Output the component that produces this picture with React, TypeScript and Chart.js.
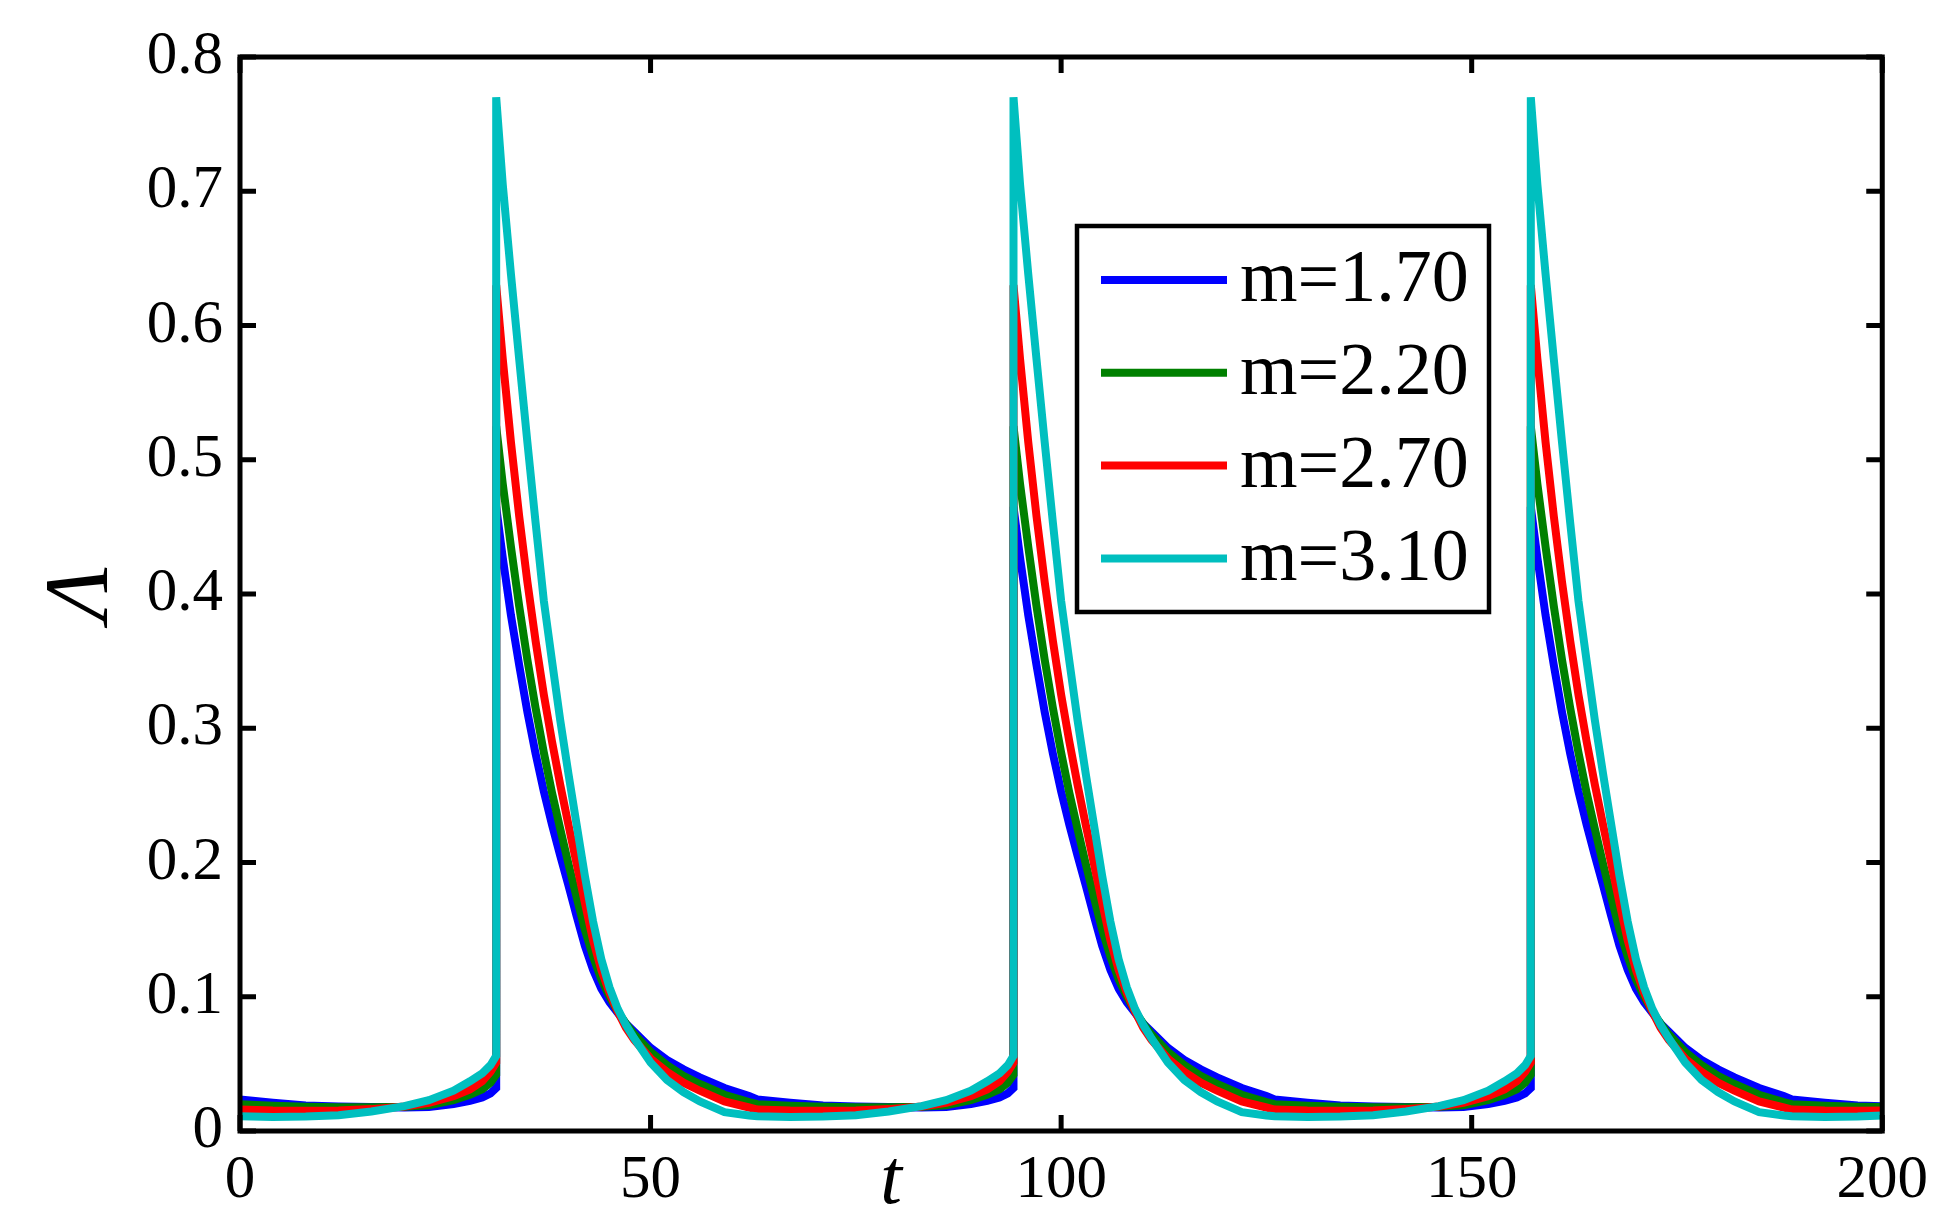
import React, { useEffect, useRef } from 'react';
import { Chart, registerables } from 'chart.js';

Chart.register(...registerables);

// time samples (shared by all four series); the spike is a repeated t value
const tValues = [
  0, 4, 8, 12, 16, 20, 23, 26, 28, 29.5, 30.5, 31.2, 31.2,
  32, 33, 34, 35, 36, 37, 38, 39, 40, 41, 42, 43, 44, 45, 46, 47, 48, 50, 52, 54, 56, 59, 62,
  63, 67, 71, 75, 79, 83, 86, 89, 91, 92.5, 93.5, 94.2, 94.2,
  95, 96, 97, 98, 99, 100, 101, 102, 103, 104, 105, 106, 107, 108, 109, 110, 111, 113, 115, 117, 119, 122, 125,
  126, 130, 134, 138, 142, 146, 149, 152, 154, 155.5, 156.5, 157.2, 157.2,
  158, 159, 160, 161, 162, 163, 164, 165, 166, 167, 168, 169, 170, 171, 172, 173, 174, 176, 178, 180, 182, 185, 188,
  189, 193, 197, 200,
];

const blueValues = [
  0.0235, 0.021, 0.019, 0.0183, 0.0178, 0.0175, 0.0178, 0.02, 0.0225, 0.025, 0.028, 0.032, 0.465,
  0.427, 0.384, 0.347, 0.312, 0.281, 0.253, 0.228, 0.205, 0.183, 0.16, 0.138, 0.12, 0.106, 0.096, 0.088, 0.08, 0.074, 0.062, 0.053, 0.046, 0.04, 0.032, 0.026,
  0.0235, 0.021, 0.019, 0.0183, 0.0178, 0.0175, 0.0178, 0.02, 0.0225, 0.025, 0.028, 0.032, 0.465,
  0.427, 0.384, 0.347, 0.312, 0.281, 0.253, 0.228, 0.205, 0.183, 0.16, 0.138, 0.12, 0.106, 0.096, 0.088, 0.08, 0.074, 0.062, 0.053, 0.046, 0.04, 0.032, 0.026,
  0.0235, 0.021, 0.019, 0.0183, 0.0178, 0.0175, 0.0178, 0.02, 0.0225, 0.025, 0.028, 0.032, 0.465,
  0.427, 0.384, 0.347, 0.312, 0.281, 0.253, 0.228, 0.205, 0.183, 0.16, 0.138, 0.12, 0.106, 0.096, 0.088, 0.08, 0.074, 0.062, 0.053, 0.046, 0.04, 0.032, 0.026,
  0.0235, 0.021, 0.019, 0.0185,
];

const greenValues = [
  0.02, 0.0188, 0.018, 0.0177, 0.0176, 0.018, 0.0192, 0.023, 0.027, 0.031, 0.036, 0.042, 0.525,
  0.482, 0.435, 0.391, 0.351, 0.315, 0.282, 0.252, 0.225, 0.199, 0.174, 0.15, 0.13, 0.113, 0.1, 0.089, 0.08, 0.072, 0.059, 0.049, 0.041, 0.035, 0.027, 0.0215,
  0.02, 0.0188, 0.018, 0.0177, 0.0176, 0.018, 0.0192, 0.023, 0.027, 0.031, 0.036, 0.042, 0.525,
  0.482, 0.435, 0.391, 0.351, 0.315, 0.282, 0.252, 0.225, 0.199, 0.174, 0.15, 0.13, 0.113, 0.1, 0.089, 0.08, 0.072, 0.059, 0.049, 0.041, 0.035, 0.027, 0.0215,
  0.02, 0.0188, 0.018, 0.0177, 0.0176, 0.018, 0.0192, 0.023, 0.027, 0.031, 0.036, 0.042, 0.525,
  0.482, 0.435, 0.391, 0.351, 0.315, 0.282, 0.252, 0.225, 0.199, 0.174, 0.15, 0.13, 0.113, 0.1, 0.089, 0.08, 0.072, 0.059, 0.049, 0.041, 0.035, 0.027, 0.0215,
  0.02, 0.0188, 0.018, 0.0178,
];

const redValues = [
  0.016, 0.0152, 0.015, 0.0153, 0.0163, 0.0182, 0.021, 0.026, 0.031, 0.037, 0.044, 0.051, 0.63,
  0.575, 0.513, 0.458, 0.409, 0.365, 0.325, 0.29, 0.258, 0.228, 0.199, 0.17, 0.142, 0.12, 0.103, 0.089, 0.077, 0.068, 0.054, 0.044, 0.036, 0.03, 0.022, 0.0175,
  0.016, 0.0152, 0.015, 0.0153, 0.0163, 0.0182, 0.021, 0.026, 0.031, 0.037, 0.044, 0.051, 0.63,
  0.575, 0.513, 0.458, 0.409, 0.365, 0.325, 0.29, 0.258, 0.228, 0.199, 0.17, 0.142, 0.12, 0.103, 0.089, 0.077, 0.068, 0.054, 0.044, 0.036, 0.03, 0.022, 0.0175,
  0.016, 0.0152, 0.015, 0.0153, 0.0163, 0.0182, 0.021, 0.026, 0.031, 0.037, 0.044, 0.051, 0.63,
  0.575, 0.513, 0.458, 0.409, 0.365, 0.325, 0.29, 0.258, 0.228, 0.199, 0.17, 0.142, 0.12, 0.103, 0.089, 0.077, 0.068, 0.054, 0.044, 0.036, 0.03, 0.022, 0.0175,
  0.016, 0.0152, 0.015, 0.0152,
];

const cyanValues = [
  0.011, 0.0105, 0.0108, 0.0118, 0.0145, 0.0185, 0.023, 0.03, 0.037, 0.043, 0.049, 0.056, 0.77,
  0.705, 0.638, 0.575, 0.513, 0.453, 0.395, 0.35, 0.306, 0.266, 0.228, 0.19, 0.156, 0.128, 0.107, 0.091, 0.079, 0.069, 0.051, 0.038, 0.029, 0.022, 0.014, 0.0115,
  0.011, 0.0105, 0.0108, 0.0118, 0.0145, 0.0185, 0.023, 0.03, 0.037, 0.043, 0.049, 0.056, 0.77,
  0.705, 0.638, 0.575, 0.513, 0.453, 0.395, 0.35, 0.306, 0.266, 0.228, 0.19, 0.156, 0.128, 0.107, 0.091, 0.079, 0.069, 0.051, 0.038, 0.029, 0.022, 0.014, 0.0115,
  0.011, 0.0105, 0.0108, 0.0118, 0.0145, 0.0185, 0.023, 0.03, 0.037, 0.043, 0.049, 0.056, 0.77,
  0.705, 0.638, 0.575, 0.513, 0.453, 0.395, 0.35, 0.306, 0.266, 0.228, 0.19, 0.156, 0.128, 0.107, 0.091, 0.079, 0.069, 0.051, 0.038, 0.029, 0.022, 0.014, 0.0115,
  0.011, 0.0105, 0.0108, 0.0115,
];

const seriesLabels = ['m=1.70', 'm=2.20', 'm=2.70', 'm=3.10'];
const seriesColors = ['#0000ff', '#008000', '#ff0000', '#00bfbf'];

const xTickValues = [0, 50, 100, 150, 200];
const yTickValues = [0, 0.1, 0.2, 0.3, 0.4, 0.5, 0.6, 0.7, 0.8];

const FONT = '"Liberation Serif", "Times New Roman", serif';

// box with inward ticks on all sides, axis titles and the legend
const framePlugin = {
  id: 'frame',
  afterDatasetsDraw(chart: any) {
    const { ctx, chartArea: a, scales } = chart;
    ctx.save();
    ctx.strokeStyle = '#000';
    ctx.lineWidth = 5;
    ctx.lineCap = 'butt';
    ctx.strokeRect(a.left, a.top, a.right - a.left, a.bottom - a.top);

    ctx.beginPath();
    xTickValues.forEach((v) => {
      const x = scales.x.getPixelForValue(v);
      ctx.moveTo(x, a.bottom);
      ctx.lineTo(x, a.bottom - 16);
      ctx.moveTo(x, a.top);
      ctx.lineTo(x, a.top + 16);
    });
    yTickValues.forEach((v) => {
      const y = scales.y.getPixelForValue(v);
      ctx.moveTo(a.left, y);
      ctx.lineTo(a.left + 16, y);
      ctx.moveTo(a.right, y);
      ctx.lineTo(a.right - 16, y);
    });
    ctx.stroke();

    // axis titles
    ctx.fillStyle = '#000';
    ctx.textAlign = 'center';
    ctx.textBaseline = 'alphabetic';
    ctx.font = `italic 78px ${FONT}`;
    ctx.fillText('t', 891, 1203);

    ctx.save();
    ctx.translate(107, (a.top + a.bottom) / 2);
    ctx.rotate(-Math.PI / 2);
    ctx.font = `italic 90px ${FONT}`;
    ctx.fillText('Λ', 0, 0);
    ctx.restore();

    // legend
    const lx = 1077, ly = 226, lw = 412, lh = 386;
    ctx.fillStyle = '#fff';
    ctx.fillRect(lx, ly, lw, lh);
    ctx.lineWidth = 4.5;
    ctx.strokeRect(lx, ly, lw, lh);
    ctx.font = `74px ${FONT}`;
    ctx.textAlign = 'left';
    ctx.textBaseline = 'middle';
    seriesLabels.forEach((label, i) => {
      const y = ly + 54 + i * 92.8;
      ctx.strokeStyle = seriesColors[i];
      ctx.lineWidth = 8;
      ctx.beginPath();
      ctx.moveTo(lx + 24, y);
      ctx.lineTo(lx + 150, y);
      ctx.stroke();
      ctx.fillStyle = '#000';
      ctx.fillText(label, lx + 163, y + 2);
    });
    ctx.restore();
  },
};

export default function App() {
  const canvasRef = useRef<HTMLCanvasElement | null>(null);

  useEffect(() => {
    if (!canvasRef.current) return;
    const allValues = [blueValues, greenValues, redValues, cyanValues];

    const chart = new Chart(canvasRef.current, {
      type: 'line',
      data: {
        datasets: seriesLabels.map((label, i) => ({
          label,
          data: tValues.map((t, j) => ({ x: t, y: allValues[i][j] })),
          borderColor: seriesColors[i],
          backgroundColor: seriesColors[i],
          borderWidth: 8,
          pointRadius: 0,
          tension: 0,
          fill: false,
          // cyan drawn last (on top), blue first
          order: seriesLabels.length - i,
        })),
      },
      options: {
        responsive: true,
        maintainAspectRatio: false,
        animation: false,
        layout: { padding: { top: 57, right: 50, bottom: 0, left: 0 } },
        scales: {
          x: {
            type: 'linear',
            min: 0,
            max: 200,
            grid: { display: false, drawTicks: false },
            border: { display: false },
            ticks: {
              color: '#000',
              font: { family: FONT, size: 61 },
              padding: 13,
              maxRotation: 0,
              autoSkip: false,
              callback: (v: any) => String(v),
            },
            afterBuildTicks: (s: any) => {
              s.ticks = xTickValues.map((v) => ({ value: v }));
            },
            afterFit: (s: any) => {
              s.height = 90;
            },
          },
          y: {
            type: 'linear',
            min: 0,
            max: 0.8,
            grid: { display: false, drawTicks: false },
            border: { display: false },
            ticks: {
              color: '#000',
              font: { family: FONT, size: 61 },
              padding: 17,
              autoSkip: false,
              callback: (v: any) => (Number(v) === 0 ? '0' : Number(v).toFixed(1)),
            },
            afterBuildTicks: (s: any) => {
              s.ticks = yTickValues.map((v) => ({ value: v }));
            },
            afterFit: (s: any) => {
              s.width = 240;
            },
          },
        },
        plugins: {
          legend: { display: false },
          tooltip: { enabled: false },
        },
      },
      plugins: [framePlugin],
    });

    return () => {
      chart.destroy();
    };
  }, []);

  return (
    <div style={{ position: 'absolute', left: 0, top: 0, width: 1941, height: 1221, background: '#fff' }}>
      <canvas ref={canvasRef} />
    </div>
  );
}
